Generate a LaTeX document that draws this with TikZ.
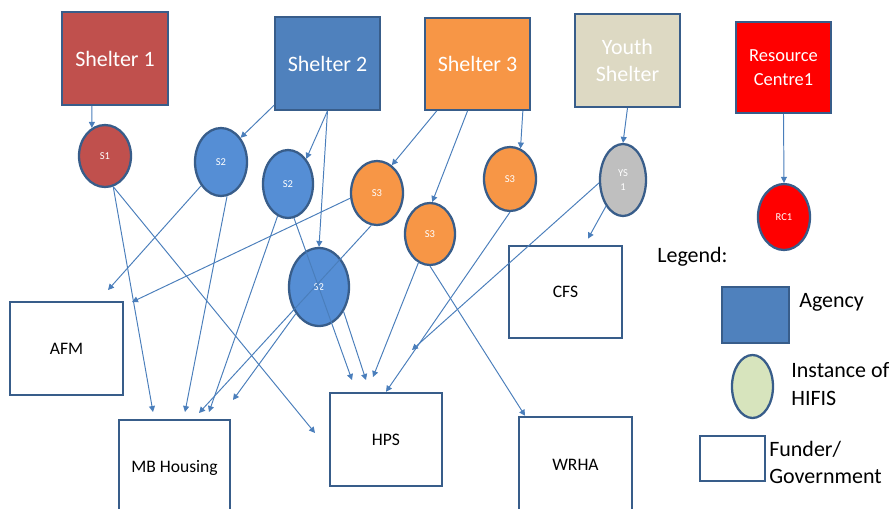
\documentclass[tikz,border=0pt]{standalone}
\usepackage{fontspec}
\setmainfont{Carlito}
\usetikzlibrary{arrows.meta, shapes.geometric}

\definecolor{sheltera}{HTML}{C0504D}
\definecolor{shelterb}{HTML}{4F81BD}
\definecolor{shelterc}{HTML}{F79646}
\definecolor{youthtan}{HTML}{DDD9C3}
\definecolor{hifisblue}{HTML}{558ED5}
\definecolor{hifisgrey}{HTML}{BFBFBF}
\definecolor{legendgreen}{HTML}{D7E4BD}
\definecolor{rim}{HTML}{385D8A}
\definecolor{linkblue}{HTML}{4A7EBB}

\tikzset{
  agency/.style={draw=rim, line width=1.1pt, text=white, align=center, inner sep=0pt,
    font=\fontsize{12.5}{15.3}\selectfont},
  hifis/.style={ellipse, draw=rim, line width=1.3pt, text=white, align=center, inner sep=0pt,
    font=\fontsize{6}{7.5}\selectfont},
  funder/.style={draw=rim, line width=1.4pt, fill=white, inner sep=0pt,
    font=\fontsize{10}{12}\selectfont},
  legendtext/.style={anchor=west, align=left, inner sep=0pt,
    font=\fontsize{12.5}{15.8}\selectfont},
  flow/.style={->, draw=linkblue, line width=0.55pt}
}

\begin{document}
\begin{tikzpicture}[x=0.02cm, y=-0.02cm, >={Triangle[length=3.4pt,width=3.4pt]}]
  \useasboundingbox (0,0) rectangle (894,508);

  % Agencies
  \node[agency, fill=sheltera, minimum width=2.12cm, minimum height=1.86cm] (sh1) at (115,58.5) {Shelter 1};
  \node[agency, fill=shelterb, minimum width=2.1cm, minimum height=1.86cm] (sh2) at (327.5,63.5) {Shelter 2};
  \node[agency, fill=shelterc, minimum width=2.1cm, minimum height=1.84cm] (sh3) at (477.5,64) {Shelter 3};
  \node[agency, fill=youthtan, minimum width=2.1cm, minimum height=1.86cm] (ysh) at (627.5,60.5) {Youth\\Shelter};
  \node[agency, fill=red, minimum width=1.9cm, minimum height=1.82cm,
        font=\fontsize{10.5}{13.6}\selectfont] (rc) at (783.5,67.5) {Resource\\Centre1};

  % Instances of HIFIS
  \node[hifis, fill=sheltera, minimum width=1.04cm, minimum height=1.24cm] (s1) at (105,156) {S1};
  \node[hifis, fill=hifisblue, minimum width=1.04cm, minimum height=1.36cm] (s2a) at (221,162) {S2};
  \node[hifis, fill=hifisblue, minimum width=1.0cm, minimum height=1.36cm] (s2b) at (288,184) {S2};
  \node[hifis, fill=hifisblue, minimum width=1.2cm, minimum height=1.56cm] (s2c) at (319,287) {S2};
  \node[hifis, fill=shelterc, minimum width=1.04cm, minimum height=1.28cm] (s3a) at (377,193) {S3};
  \node[hifis, fill=shelterc, minimum width=1.0cm, minimum height=1.24cm] (s3b) at (430,234) {S3};
  \node[hifis, fill=shelterc, minimum width=1.04cm, minimum height=1.28cm] (s3c) at (510,179) {S3};
  \node[hifis, fill=hifisgrey, minimum width=0.92cm, minimum height=1.44cm] (ys1) at (623,180) {YS\\1};
  \node[hifis, fill=red, minimum width=1.04cm, minimum height=1.32cm] (rc1) at (784,217) {RC1};

  % Funders
  \node[funder, minimum width=2.26cm, minimum height=1.86cm] (afm) at (66.5,348.5) {AFM};
  \node[funder, minimum width=2.22cm, minimum height=1.9cm] (mb) at (174.5,467.5) {MB Housing};
  \node[funder, minimum width=2.24cm, minimum height=1.86cm] (hps) at (386,439.5) {HPS};
  \node[funder, minimum width=2.26cm, minimum height=1.84cm] (cfs) at (565.5,292) {CFS};
  \node[funder, minimum width=2.26cm, minimum height=1.9cm] (wrha) at (575.5,464.5) {WRHA};

  % Legend
  \node[legendtext] (legend) at (657,257) {Legend:};
  \node[draw=rim, line width=1.1pt, fill=shelterb, minimum width=1.34cm, minimum height=1.12cm] (keyagency) at (755.5,315) {};
  \node[legendtext] (keyagencytext) at (799,302) {Agency};
  \node[ellipse, draw=rim, line width=1.3pt, fill=legendgreen, minimum width=0.82cm, minimum height=1.26cm] (keyhifis) at (752.5,386.5) {};
  \node[legendtext] (keyhifistext) at (791,384) {Instance of\\HIFIS};
  \node[draw=rim, line width=1.4pt, fill=white, minimum width=1.3cm, minimum height=0.9cm] (keyfunder) at (732.5,458.5) {};
  \node[legendtext] (keyfundertext) at (769,462.5) {Funder/\\Government};

  % arrow ends that stop short
  \coordinate (toafmA) at (108,290);
  \coordinate (toafmB) at (132,302);
  \coordinate (tombA) at (153,412);
  \coordinate (tombB) at (185,412);
  \coordinate (tombC) at (199,413);
  \coordinate (tombD) at (209,412);
  \coordinate (tombE) at (233,400);
  \coordinate (tohpsA) at (315,433);
  \coordinate (tohpsB) at (352,380);
  \coordinate (tohpsC) at (366,380);
  \coordinate (tohpsD) at (373,377);
  \coordinate (tohpsE) at (412,350);

  % Agency to instance
  \draw[flow] (sh1.244) -- (s1.115);
  \draw[flow] (sh2.218) -- (s2a.51);
  \draw[flow] (sh2.south) -- (s2b.54);
  \draw[flow] (sh2.south) -- (s2c.north);
  \draw[flow] (sh3.229) -- (s3a.62);
  \draw[flow] (sh3.258) -- (s3b.86);
  \draw[flow] (sh3.314) -- (s3c.71);
  \draw[flow] (ysh.south) -- (ys1.north);
  \draw[flow] (rc.south) -- (rc1.north);

  % Instance to funder
  \draw[flow] (s1.-75) -- (tombA);
  \draw[flow] (s1.-75) -- (tohpsA);
  \draw[flow] (s2a.-80) -- (tombB);
  \draw[flow] (s2a.230) -- (toafmA);
  \draw[flow] (s2b.252) -- (tombD);
  \draw[flow] (s2b.-80) -- (tohpsB);
  \draw[flow] (s2c.-45) -- (tohpsC);
  \draw[flow] (s2c.229) -- (tombE);
  \draw[flow] (s3a.191) -- (toafmB);
  \draw[flow] (s3a.-100) -- (tombC);
  \draw[flow] (s3b.248) -- (tohpsD);
  \draw[flow] (s3b.south) -- (wrha.136);
  \draw[flow] (s3c.south) -- (hps.north);
  \draw[flow] (ys1.187) -- (tohpsE);
  \draw[flow, shorten >=4pt] (ys1.237) -- (cfs.68);
\end{tikzpicture}
\end{document}
